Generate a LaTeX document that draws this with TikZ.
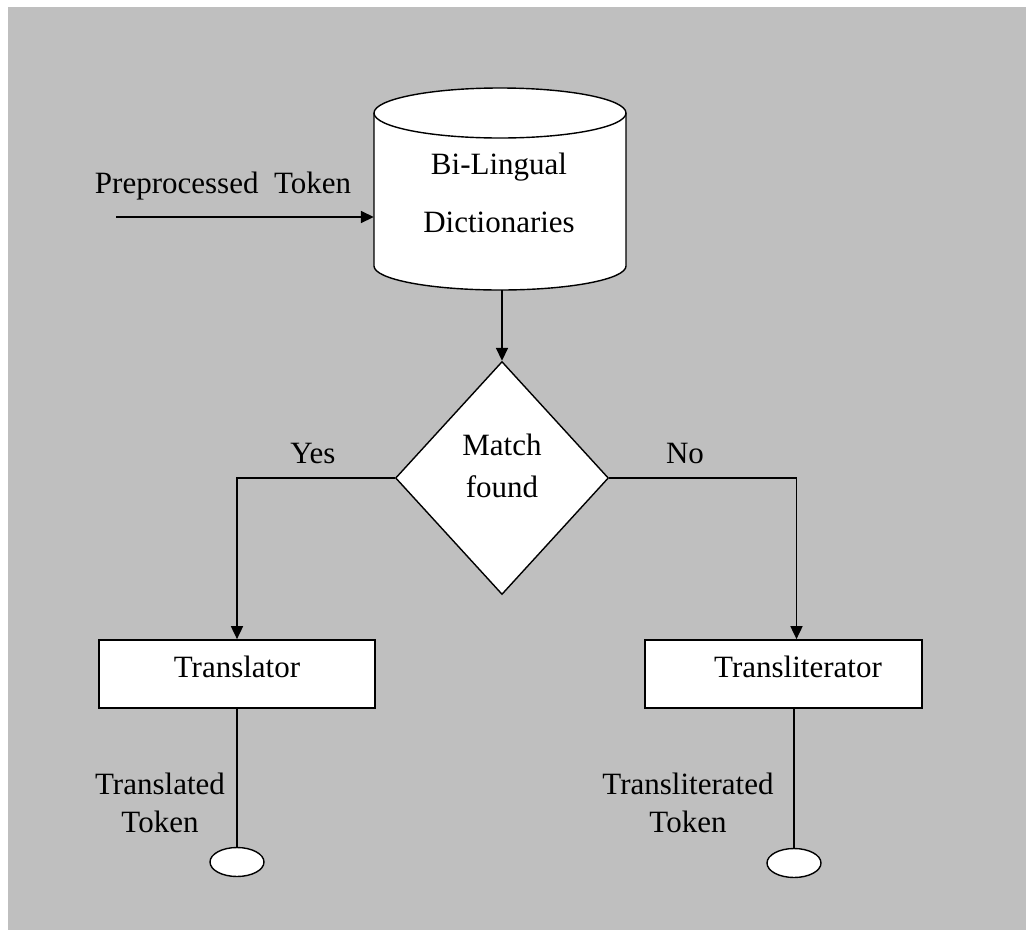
\documentclass[tikz,border=0pt]{standalone}
\usepackage{fontspec}
\setmainfont{Liberation Serif}
\usetikzlibrary{shapes.geometric,arrows.meta,calc}
\definecolor{panel}{RGB}{191,191,191}
\tikzset{
  every node/.style={font=\fontsize{31}{37}\selectfont, text=black, inner sep=0pt},
  line/.style={draw=black, line width=1.7pt},
  flow/.style={line, -{Triangle[length=13pt,width=12pt]}},
  procbox/.style={rectangle, draw=black, fill=white, line width=1.7pt,
                  minimum width=276pt, minimum height=68pt},
  decision/.style={diamond, draw=black, fill=white, line width=1.4pt,
                   minimum width=213pt, minimum height=233pt},
  terminal/.style={ellipse, draw=black, fill=white, line width=1.4pt,
                   minimum width=54pt, minimum height=29pt},
  lbl/.style={align=center}
}
\begin{document}
\begin{tikzpicture}[x=1pt,y=-1pt]
  % canvas and grey panel
  \fill[white] (0,0) rectangle (1026,930);
  \fill[panel] (8,7) rectangle (1026,930);
  \useasboundingbox (0,0) rectangle (1026,930);

  % dictionary store (cylinder drawn by hand around an invisible node)
  \node[rectangle, minimum width=252pt, minimum height=202pt] (dict) at (500,189) {};
  \filldraw[fill=white, line width=1.4pt]
    (374,113) -- (374,266) arc[start angle=180, end angle=0, x radius=126, y radius=24]
    -- (626,113) arc[start angle=360, end angle=180, x radius=126, y radius=25] -- cycle;
  \draw[line width=1.4pt] (374,113) arc[start angle=180, end angle=0, x radius=126, y radius=25];
  \node[lbl] (dicta) at (499,167) {Bi-Lingual};
  \node[lbl] (dictb) at (499,222) {Dictionaries};

  % incoming token
  \node (pretxt) at (223,186) {Preprocessed\ \ Token};
  \coordinate (pin) at (116,217);
  \draw[flow] (pin) -- (pin -| dict.west);

  % decision
  \node[decision] (match) at (502,478) {};
  \node[lbl] (matcha) at (502,445) {Match};
  \node[lbl] (matchb) at (502,487) {found};
  \draw[flow] (dict.south -| match.north) -- (match.north);

  % processors
  \node[procbox] (trl) at (237,674) {};
  \node (trltxt) at (237,667) {Translator};
  \node[procbox, minimum width=277pt] (tli) at (783.5,674) {};
  \node (tlitxt) at (798,667) {Transliterator};

  \draw[flow] (match.west) -| (trl.north);
  \draw[flow] (match.east) -| ($(tli.north)+(13,0)$);
  \node (yes) at (313,453) {Yes};
  \node (no) at (685,453) {No};

  % outputs
  \node[terminal] (outa) at (237,862) {};
  \node[terminal] (outb) at (794,863) {};
  \draw[line] (trl.south) -- (outa.north);
  \draw[line] (outb.north |- tli.south) -- (outb.north);
  \node[lbl, font=\fontsize{31}{38}\selectfont] (outatxt) at (160,803) {Translated\\Token};
  \node[lbl, font=\fontsize{31}{38}\selectfont] (outbtxt) at (688,803) {Transliterated\\Token};
\end{tikzpicture}
\end{document}
